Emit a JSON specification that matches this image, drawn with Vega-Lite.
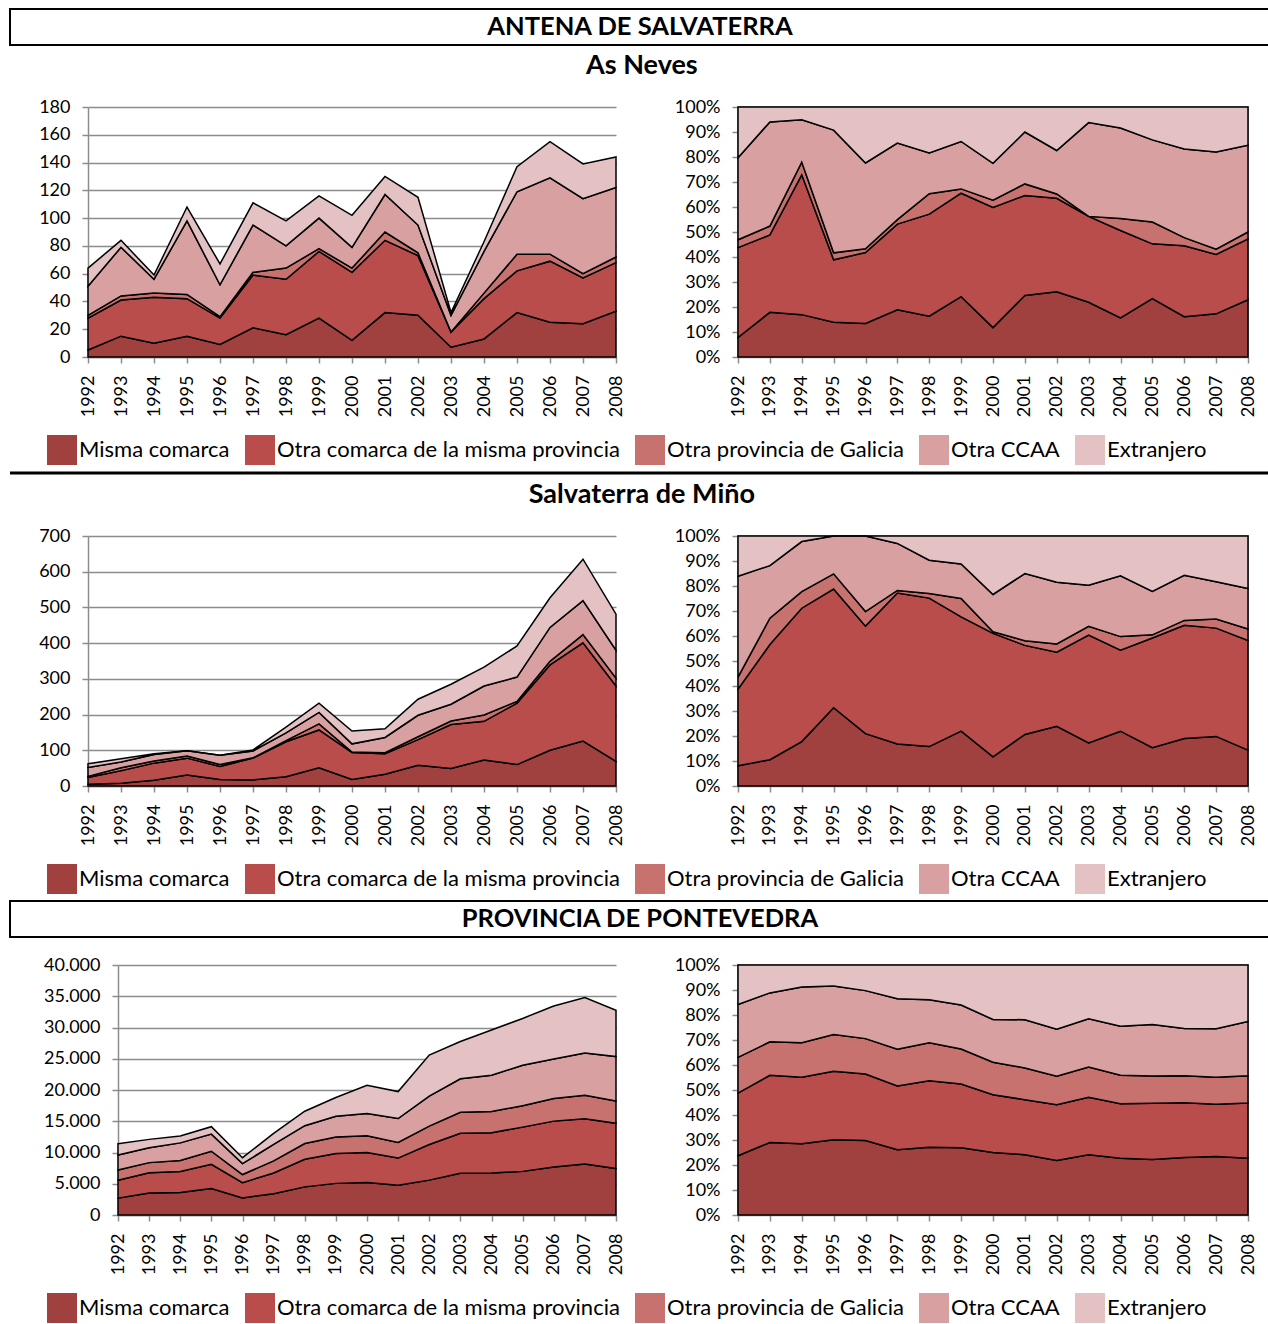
{
  "$schema": "https://vega.github.io/schema/vega-lite/v6.json",
  "padding": {"left": 8, "top": 8, "right": 0, "bottom": 0},
  "background": "white",
  "spacing": 6,
  "config": {
    "font": "Lato",
    "axis": {"labelFont": "Lato", "labelFontSize": 18, "labelColor": "black", "domainColor": "#8c8c8c", "domainWidth": 1.5, "tickColor": "#8c8c8c", "tickWidth": 1.5, "tickSize": 6, "gridColor": "#8c8c8c", "gridWidth": 1.5, "labelPadding": 12},
    "axisX": {"labelAngle": -90, "labelPadding": 12},
    "legend": {"direction": "horizontal", "symbolType": "square", "symbolSize": 900, "symbolStrokeWidth": 0, "symbolOpacity": 1, "labelFont": "Lato", "labelFontSize": 22, "labelColor": "black", "labelLimit": 0, "columnPadding": 15, "labelOffset": 2, "title": null},
    "title": {"font": "Lato", "fontSize": 27, "fontWeight": "bold", "color": "black", "anchor": "middle"}
  },
  "resolve": {"scale": {"color": "independent"}},
  "datasets": {
    "neves": [
      {"year":1992,"cat":"Misma comarca","ord":1,"value":5},{"year":1992,"cat":"Otra comarca de la misma provincia","ord":2,"value":23},{"year":1992,"cat":"Otra provincia de Galicia","ord":3,"value":2},{"year":1992,"cat":"Otra CCAA","ord":4,"value":21},{"year":1992,"cat":"Extranjero","ord":5,"value":13},
      {"year":1993,"cat":"Misma comarca","ord":1,"value":15},{"year":1993,"cat":"Otra comarca de la misma provincia","ord":2,"value":26},{"year":1993,"cat":"Otra provincia de Galicia","ord":3,"value":3},{"year":1993,"cat":"Otra CCAA","ord":4,"value":35},{"year":1993,"cat":"Extranjero","ord":5,"value":5},
      {"year":1994,"cat":"Misma comarca","ord":1,"value":10},{"year":1994,"cat":"Otra comarca de la misma provincia","ord":2,"value":33},{"year":1994,"cat":"Otra provincia de Galicia","ord":3,"value":3},{"year":1994,"cat":"Otra CCAA","ord":4,"value":10},{"year":1994,"cat":"Extranjero","ord":5,"value":3},
      {"year":1995,"cat":"Misma comarca","ord":1,"value":15},{"year":1995,"cat":"Otra comarca de la misma provincia","ord":2,"value":27},{"year":1995,"cat":"Otra provincia de Galicia","ord":3,"value":3},{"year":1995,"cat":"Otra CCAA","ord":4,"value":53},{"year":1995,"cat":"Extranjero","ord":5,"value":10},
      {"year":1996,"cat":"Misma comarca","ord":1,"value":9},{"year":1996,"cat":"Otra comarca de la misma provincia","ord":2,"value":19},{"year":1996,"cat":"Otra provincia de Galicia","ord":3,"value":1},{"year":1996,"cat":"Otra CCAA","ord":4,"value":23},{"year":1996,"cat":"Extranjero","ord":5,"value":15},
      {"year":1997,"cat":"Misma comarca","ord":1,"value":21},{"year":1997,"cat":"Otra comarca de la misma provincia","ord":2,"value":38},{"year":1997,"cat":"Otra provincia de Galicia","ord":3,"value":2},{"year":1997,"cat":"Otra CCAA","ord":4,"value":34},{"year":1997,"cat":"Extranjero","ord":5,"value":16},
      {"year":1998,"cat":"Misma comarca","ord":1,"value":16},{"year":1998,"cat":"Otra comarca de la misma provincia","ord":2,"value":40},{"year":1998,"cat":"Otra provincia de Galicia","ord":3,"value":8},{"year":1998,"cat":"Otra CCAA","ord":4,"value":16},{"year":1998,"cat":"Extranjero","ord":5,"value":18},
      {"year":1999,"cat":"Misma comarca","ord":1,"value":28},{"year":1999,"cat":"Otra comarca de la misma provincia","ord":2,"value":48},{"year":1999,"cat":"Otra provincia de Galicia","ord":3,"value":2},{"year":1999,"cat":"Otra CCAA","ord":4,"value":22},{"year":1999,"cat":"Extranjero","ord":5,"value":16},
      {"year":2000,"cat":"Misma comarca","ord":1,"value":12},{"year":2000,"cat":"Otra comarca de la misma provincia","ord":2,"value":49},{"year":2000,"cat":"Otra provincia de Galicia","ord":3,"value":3},{"year":2000,"cat":"Otra CCAA","ord":4,"value":15},{"year":2000,"cat":"Extranjero","ord":5,"value":23},
      {"year":2001,"cat":"Misma comarca","ord":1,"value":32},{"year":2001,"cat":"Otra comarca de la misma provincia","ord":2,"value":52},{"year":2001,"cat":"Otra provincia de Galicia","ord":3,"value":6},{"year":2001,"cat":"Otra CCAA","ord":4,"value":27},{"year":2001,"cat":"Extranjero","ord":5,"value":13},
      {"year":2002,"cat":"Misma comarca","ord":1,"value":30},{"year":2002,"cat":"Otra comarca de la misma provincia","ord":2,"value":43},{"year":2002,"cat":"Otra provincia de Galicia","ord":3,"value":2},{"year":2002,"cat":"Otra CCAA","ord":4,"value":20},{"year":2002,"cat":"Extranjero","ord":5,"value":20},
      {"year":2003,"cat":"Misma comarca","ord":1,"value":7},{"year":2003,"cat":"Otra comarca de la misma provincia","ord":2,"value":11},{"year":2003,"cat":"Otra provincia de Galicia","ord":3,"value":0},{"year":2003,"cat":"Otra CCAA","ord":4,"value":12},{"year":2003,"cat":"Extranjero","ord":5,"value":2},
      {"year":2004,"cat":"Misma comarca","ord":1,"value":13},{"year":2004,"cat":"Otra comarca de la misma provincia","ord":2,"value":29},{"year":2004,"cat":"Otra provincia de Galicia","ord":3,"value":4},{"year":2004,"cat":"Otra CCAA","ord":4,"value":30},{"year":2004,"cat":"Extranjero","ord":5,"value":7},
      {"year":2005,"cat":"Misma comarca","ord":1,"value":32},{"year":2005,"cat":"Otra comarca de la misma provincia","ord":2,"value":30},{"year":2005,"cat":"Otra provincia de Galicia","ord":3,"value":12},{"year":2005,"cat":"Otra CCAA","ord":4,"value":45},{"year":2005,"cat":"Extranjero","ord":5,"value":18},
      {"year":2006,"cat":"Misma comarca","ord":1,"value":25},{"year":2006,"cat":"Otra comarca de la misma provincia","ord":2,"value":44},{"year":2006,"cat":"Otra provincia de Galicia","ord":3,"value":5},{"year":2006,"cat":"Otra CCAA","ord":4,"value":55},{"year":2006,"cat":"Extranjero","ord":5,"value":26},
      {"year":2007,"cat":"Misma comarca","ord":1,"value":24},{"year":2007,"cat":"Otra comarca de la misma provincia","ord":2,"value":33},{"year":2007,"cat":"Otra provincia de Galicia","ord":3,"value":3},{"year":2007,"cat":"Otra CCAA","ord":4,"value":54},{"year":2007,"cat":"Extranjero","ord":5,"value":25},
      {"year":2008,"cat":"Misma comarca","ord":1,"value":33},{"year":2008,"cat":"Otra comarca de la misma provincia","ord":2,"value":35},{"year":2008,"cat":"Otra provincia de Galicia","ord":3,"value":4},{"year":2008,"cat":"Otra CCAA","ord":4,"value":50},{"year":2008,"cat":"Extranjero","ord":5,"value":22}
    ],
    "salva": [
      {"year":1992,"cat":"Misma comarca","ord":1,"value":5},{"year":1992,"cat":"Otra comarca de la misma provincia","ord":2,"value":19},{"year":1992,"cat":"Otra provincia de Galicia","ord":3,"value":3},{"year":1992,"cat":"Otra CCAA","ord":4,"value":25},{"year":1992,"cat":"Extranjero","ord":5,"value":10},
      {"year":1993,"cat":"Misma comarca","ord":1,"value":8},{"year":1993,"cat":"Otra comarca de la misma provincia","ord":2,"value":35},{"year":1993,"cat":"Otra provincia de Galicia","ord":3,"value":8},{"year":1993,"cat":"Otra CCAA","ord":4,"value":16},{"year":1993,"cat":"Extranjero","ord":5,"value":9},
      {"year":1994,"cat":"Misma comarca","ord":1,"value":16},{"year":1994,"cat":"Otra comarca de la misma provincia","ord":2,"value":48},{"year":1994,"cat":"Otra provincia de Galicia","ord":3,"value":6},{"year":1994,"cat":"Otra CCAA","ord":4,"value":18},{"year":1994,"cat":"Extranjero","ord":5,"value":2},
      {"year":1995,"cat":"Misma comarca","ord":1,"value":31},{"year":1995,"cat":"Otra comarca de la misma provincia","ord":2,"value":47},{"year":1995,"cat":"Otra provincia de Galicia","ord":3,"value":6},{"year":1995,"cat":"Otra CCAA","ord":4,"value":15},{"year":1995,"cat":"Extranjero","ord":5,"value":0},
      {"year":1996,"cat":"Misma comarca","ord":1,"value":18},{"year":1996,"cat":"Otra comarca de la misma provincia","ord":2,"value":37},{"year":1996,"cat":"Otra provincia de Galicia","ord":3,"value":5},{"year":1996,"cat":"Otra CCAA","ord":4,"value":26},{"year":1996,"cat":"Extranjero","ord":5,"value":0},
      {"year":1997,"cat":"Misma comarca","ord":1,"value":17},{"year":1997,"cat":"Otra comarca de la misma provincia","ord":2,"value":61},{"year":1997,"cat":"Otra provincia de Galicia","ord":3,"value":1},{"year":1997,"cat":"Otra CCAA","ord":4,"value":19},{"year":1997,"cat":"Extranjero","ord":5,"value":3},
      {"year":1998,"cat":"Misma comarca","ord":1,"value":26},{"year":1998,"cat":"Otra comarca de la misma provincia","ord":2,"value":98},{"year":1998,"cat":"Otra provincia de Galicia","ord":3,"value":3},{"year":1998,"cat":"Otra CCAA","ord":4,"value":22},{"year":1998,"cat":"Extranjero","ord":5,"value":16},
      {"year":1999,"cat":"Misma comarca","ord":1,"value":51},{"year":1999,"cat":"Otra comarca de la misma provincia","ord":2,"value":106},{"year":1999,"cat":"Otra provincia de Galicia","ord":3,"value":17},{"year":1999,"cat":"Otra CCAA","ord":4,"value":32},{"year":1999,"cat":"Extranjero","ord":5,"value":26},
      {"year":2000,"cat":"Misma comarca","ord":1,"value":18},{"year":2000,"cat":"Otra comarca de la misma provincia","ord":2,"value":76},{"year":2000,"cat":"Otra provincia de Galicia","ord":3,"value":1},{"year":2000,"cat":"Otra CCAA","ord":4,"value":23},{"year":2000,"cat":"Extranjero","ord":5,"value":36},
      {"year":2001,"cat":"Misma comarca","ord":1,"value":33},{"year":2001,"cat":"Otra comarca de la misma provincia","ord":2,"value":57},{"year":2001,"cat":"Otra provincia de Galicia","ord":3,"value":3},{"year":2001,"cat":"Otra CCAA","ord":4,"value":43},{"year":2001,"cat":"Extranjero","ord":5,"value":24},
      {"year":2002,"cat":"Misma comarca","ord":1,"value":58},{"year":2002,"cat":"Otra comarca de la misma provincia","ord":2,"value":72},{"year":2002,"cat":"Otra provincia de Galicia","ord":3,"value":8},{"year":2002,"cat":"Otra CCAA","ord":4,"value":60},{"year":2002,"cat":"Extranjero","ord":5,"value":45},
      {"year":2003,"cat":"Misma comarca","ord":1,"value":49},{"year":2003,"cat":"Otra comarca de la misma provincia","ord":2,"value":123},{"year":2003,"cat":"Otra provincia de Galicia","ord":3,"value":10},{"year":2003,"cat":"Otra CCAA","ord":4,"value":47},{"year":2003,"cat":"Extranjero","ord":5,"value":56},
      {"year":2004,"cat":"Misma comarca","ord":1,"value":73},{"year":2004,"cat":"Otra comarca de la misma provincia","ord":2,"value":108},{"year":2004,"cat":"Otra provincia de Galicia","ord":3,"value":18},{"year":2004,"cat":"Otra CCAA","ord":4,"value":81},{"year":2004,"cat":"Extranjero","ord":5,"value":53},
      {"year":2005,"cat":"Misma comarca","ord":1,"value":60},{"year":2005,"cat":"Otra comarca de la misma provincia","ord":2,"value":172},{"year":2005,"cat":"Otra provincia de Galicia","ord":3,"value":5},{"year":2005,"cat":"Otra CCAA","ord":4,"value":68},{"year":2005,"cat":"Extranjero","ord":5,"value":87},
      {"year":2006,"cat":"Misma comarca","ord":1,"value":100},{"year":2006,"cat":"Otra comarca de la misma provincia","ord":2,"value":239},{"year":2006,"cat":"Otra provincia de Galicia","ord":3,"value":10},{"year":2006,"cat":"Otra CCAA","ord":4,"value":95},{"year":2006,"cat":"Extranjero","ord":5,"value":83},
      {"year":2007,"cat":"Misma comarca","ord":1,"value":126},{"year":2007,"cat":"Otra comarca de la misma provincia","ord":2,"value":275},{"year":2007,"cat":"Otra provincia de Galicia","ord":3,"value":23},{"year":2007,"cat":"Otra CCAA","ord":4,"value":95},{"year":2007,"cat":"Extranjero","ord":5,"value":116},
      {"year":2008,"cat":"Misma comarca","ord":1,"value":69},{"year":2008,"cat":"Otra comarca de la misma provincia","ord":2,"value":211},{"year":2008,"cat":"Otra provincia de Galicia","ord":3,"value":22},{"year":2008,"cat":"Otra CCAA","ord":4,"value":78},{"year":2008,"cat":"Extranjero","ord":5,"value":101}
    ],
    "ponte": [
      {"year":1992,"cat":"Misma comarca","ord":1,"value":2700},{"year":1992,"cat":"Otra comarca de la misma provincia","ord":2,"value":2860},{"year":1992,"cat":"Otra provincia de Galicia","ord":3,"value":1630},{"year":1992,"cat":"Otra CCAA","ord":4,"value":2410},{"year":1992,"cat":"Extranjero","ord":5,"value":1800},
      {"year":1993,"cat":"Misma comarca","ord":1,"value":3510},{"year":1993,"cat":"Otra comarca de la misma provincia","ord":2,"value":3250},{"year":1993,"cat":"Otra provincia de Galicia","ord":3,"value":1620},{"year":1993,"cat":"Otra CCAA","ord":4,"value":2370},{"year":1993,"cat":"Extranjero","ord":5,"value":1350},
      {"year":1994,"cat":"Misma comarca","ord":1,"value":3600},{"year":1994,"cat":"Otra comarca de la misma provincia","ord":2,"value":3370},{"year":1994,"cat":"Otra provincia de Galicia","ord":3,"value":1750},{"year":1994,"cat":"Otra CCAA","ord":4,"value":2820},{"year":1994,"cat":"Extranjero","ord":5,"value":1110},
      {"year":1995,"cat":"Misma comarca","ord":1,"value":4250},{"year":1995,"cat":"Otra comarca de la misma provincia","ord":2,"value":3870},{"year":1995,"cat":"Otra provincia de Galicia","ord":3,"value":2080},{"year":1995,"cat":"Otra CCAA","ord":4,"value":2740},{"year":1995,"cat":"Extranjero","ord":5,"value":1190},
      {"year":1996,"cat":"Misma comarca","ord":1,"value":2730},{"year":1996,"cat":"Otra comarca de la misma provincia","ord":2,"value":2440},{"year":1996,"cat":"Otra provincia de Galicia","ord":3,"value":1300},{"year":1996,"cat":"Otra CCAA","ord":4,"value":1760},{"year":1996,"cat":"Extranjero","ord":5,"value":940},
      {"year":1997,"cat":"Misma comarca","ord":1,"value":3410},{"year":1997,"cat":"Otra comarca de la misma provincia","ord":2,"value":3320},{"year":1997,"cat":"Otra provincia de Galicia","ord":3,"value":1920},{"year":1997,"cat":"Otra CCAA","ord":4,"value":2640},{"year":1997,"cat":"Extranjero","ord":5,"value":1760},
      {"year":1998,"cat":"Misma comarca","ord":1,"value":4500},{"year":1998,"cat":"Otra comarca de la misma provincia","ord":2,"value":4410},{"year":1998,"cat":"Otra provincia de Galicia","ord":3,"value":2520},{"year":1998,"cat":"Otra CCAA","ord":4,"value":2860},{"year":1998,"cat":"Extranjero","ord":5,"value":2310},
      {"year":1999,"cat":"Misma comarca","ord":1,"value":5060},{"year":1999,"cat":"Otra comarca de la misma provincia","ord":2,"value":4790},{"year":1999,"cat":"Otra provincia de Galicia","ord":3,"value":2630},{"year":1999,"cat":"Otra CCAA","ord":4,"value":3310},{"year":1999,"cat":"Extranjero","ord":5,"value":3010},
      {"year":2000,"cat":"Misma comarca","ord":1,"value":5190},{"year":2000,"cat":"Otra comarca de la misma provincia","ord":2,"value":4790},{"year":2000,"cat":"Otra provincia de Galicia","ord":3,"value":2700},{"year":2000,"cat":"Otra CCAA","ord":4,"value":3550},{"year":2000,"cat":"Extranjero","ord":5,"value":4520},
      {"year":2001,"cat":"Misma comarca","ord":1,"value":4760},{"year":2001,"cat":"Otra comarca de la misma provincia","ord":2,"value":4350},{"year":2001,"cat":"Otra provincia de Galicia","ord":3,"value":2510},{"year":2001,"cat":"Otra CCAA","ord":4,"value":3810},{"year":2001,"cat":"Extranjero","ord":5,"value":4320},
      {"year":2002,"cat":"Misma comarca","ord":1,"value":5580},{"year":2002,"cat":"Otra comarca de la misma provincia","ord":2,"value":5710},{"year":2002,"cat":"Otra provincia de Galicia","ord":3,"value":2920},{"year":2002,"cat":"Otra CCAA","ord":4,"value":4810},{"year":2002,"cat":"Extranjero","ord":5,"value":6580},
      {"year":2003,"cat":"Misma comarca","ord":1,"value":6690},{"year":2003,"cat":"Otra comarca de la misma provincia","ord":2,"value":6380},{"year":2003,"cat":"Otra provincia de Galicia","ord":3,"value":3360},{"year":2003,"cat":"Otra CCAA","ord":4,"value":5360},{"year":2003,"cat":"Extranjero","ord":5,"value":5960},
      {"year":2004,"cat":"Misma comarca","ord":1,"value":6720},{"year":2004,"cat":"Otra comarca de la misma provincia","ord":2,"value":6450},{"year":2004,"cat":"Otra provincia de Galicia","ord":3,"value":3380},{"year":2004,"cat":"Otra CCAA","ord":4,"value":5800},{"year":2004,"cat":"Extranjero","ord":5,"value":7250},
      {"year":2005,"cat":"Misma comarca","ord":1,"value":6980},{"year":2005,"cat":"Otra comarca de la misma provincia","ord":2,"value":7080},{"year":2005,"cat":"Otra provincia de Galicia","ord":3,"value":3430},{"year":2005,"cat":"Otra CCAA","ord":4,"value":6480},{"year":2005,"cat":"Extranjero","ord":5,"value":7480},
      {"year":2006,"cat":"Misma comarca","ord":1,"value":7690},{"year":2006,"cat":"Otra comarca de la misma provincia","ord":2,"value":7330},{"year":2006,"cat":"Otra provincia de Galicia","ord":3,"value":3610},{"year":2006,"cat":"Otra CCAA","ord":4,"value":6320},{"year":2006,"cat":"Extranjero","ord":5,"value":8500},
      {"year":2007,"cat":"Misma comarca","ord":1,"value":8140},{"year":2007,"cat":"Otra comarca de la misma provincia","ord":2,"value":7270},{"year":2007,"cat":"Otra provincia de Galicia","ord":3,"value":3760},{"year":2007,"cat":"Otra CCAA","ord":4,"value":6750},{"year":2007,"cat":"Extranjero","ord":5,"value":8880},
      {"year":2008,"cat":"Misma comarca","ord":1,"value":7430},{"year":2008,"cat":"Otra comarca de la misma provincia","ord":2,"value":7240},{"year":2008,"cat":"Otra provincia de Galicia","ord":3,"value":3570},{"year":2008,"cat":"Otra CCAA","ord":4,"value":7110},{"year":2008,"cat":"Extranjero","ord":5,"value":7400}
    ]
  },
  "vconcat": [
    {
      "width": 1260, "height": 36,
      "data": {"values": [{"t": "ANTENA DE SALVATERRA"}]},
      "view": {"stroke": "black", "strokeWidth": 2},
      "mark": {"type": "text", "fontSize": 25.5, "fontWeight": "bold", "font": "Lato", "color": "black"},
      "encoding": {"text": {"field": "t"}}
    },
    {
      "title": {"text": "As Neves", "offset": 17, "dx": 8},
      "spacing": 0,
      "hconcat": [
        {"width": 1, "height": 1, "data": {"values": []}, "view": {"stroke": null}, "mark": "point"},
        {
          "width": 528, "height": 250,
          "data": {"name": "neves"},
          "view": {"stroke": null},
          "mark": {"type": "area", "stroke": "black", "strokeWidth": 1.5},
          "encoding": {
            "x": {"field": "year", "type": "ordinal", "title": null, "scale": {"type": "point", "padding": 0}},
            "y": {"field": "value", "type": "quantitative", "stack": "zero", "title": null, "scale": {"domain": [0, 180], "nice": false}, "axis": {"values": [0,20,40,60,80,100,120,140,160,180], "grid": true, "minExtent": 77}},
            "color": {"field": "cat", "type": "nominal", "scale": {"domain": ["Misma comarca","Otra comarca de la misma provincia","Otra provincia de Galicia","Otra CCAA","Extranjero"], "range": ["#A0413F","#B84D4B","#C8726F","#D8A0A0","#E4C2C4"]}, "legend": {"orient": "none", "legendX": 37, "legendY": 328}},
            "order": {"field": "ord"}
          }
        },
        {
          "width": 510, "height": 250,
          "data": {"name": "neves"},
          "view": {"stroke": "#808080", "strokeWidth": 1.5},
          "mark": {"type": "area", "stroke": "black", "strokeWidth": 1.5},
          "encoding": {
            "x": {"field": "year", "type": "ordinal", "title": null, "scale": {"type": "point", "padding": 0}},
            "y": {"field": "value", "type": "quantitative", "stack": "normalize", "title": null, "scale": {"domain": [0, 1], "nice": false}, "axis": {"values": [0,0.1,0.2,0.3,0.4,0.5,0.6,0.7,0.8,0.9,1], "format": ".0%", "grid": false, "minExtent": 112}},
            "color": {"field": "cat", "type": "nominal", "scale": {"domain": ["Misma comarca","Otra comarca de la misma provincia","Otra provincia de Galicia","Otra CCAA","Extranjero"], "range": ["#A0413F","#B84D4B","#C8726F","#D8A0A0","#E4C2C4"]}, "legend": {"orient": "none", "legendX": 37, "legendY": 328}},
            "order": {"field": "ord"}
          }
        }
      ]
    },
    {
      "width": 1260, "height": 1,
      "data": {"values": [{}]},
      "view": {"stroke": null},
      "mark": {"type": "rule", "strokeWidth": 3, "color": "black"},
      "encoding": {"y": {"datum": 1, "type": "quantitative", "scale": {"domain": [0, 1]}, "axis": null}}
    },
    {
      "title": {"text": "Salvaterra de Miño", "offset": 17, "dx": 8},
      "spacing": 0,
      "hconcat": [
        {"width": 1, "height": 1, "data": {"values": []}, "view": {"stroke": null}, "mark": "point"},
        {
          "width": 528, "height": 250,
          "data": {"name": "salva"},
          "view": {"stroke": null},
          "mark": {"type": "area", "stroke": "black", "strokeWidth": 1.5},
          "encoding": {
            "x": {"field": "year", "type": "ordinal", "title": null, "scale": {"type": "point", "padding": 0}},
            "y": {"field": "value", "type": "quantitative", "stack": "zero", "title": null, "scale": {"domain": [0, 700], "nice": false}, "axis": {"values": [0,100,200,300,400,500,600,700], "grid": true, "minExtent": 77}},
            "color": {"field": "cat", "type": "nominal", "scale": {"domain": ["Misma comarca","Otra comarca de la misma provincia","Otra provincia de Galicia","Otra CCAA","Extranjero"], "range": ["#A0413F","#B84D4B","#C8726F","#D8A0A0","#E4C2C4"]}, "legend": {"orient": "none", "legendX": 37, "legendY": 328}},
            "order": {"field": "ord"}
          }
        },
        {
          "width": 510, "height": 250,
          "data": {"name": "salva"},
          "view": {"stroke": "#808080", "strokeWidth": 1.5},
          "mark": {"type": "area", "stroke": "black", "strokeWidth": 1.5},
          "encoding": {
            "x": {"field": "year", "type": "ordinal", "title": null, "scale": {"type": "point", "padding": 0}},
            "y": {"field": "value", "type": "quantitative", "stack": "normalize", "title": null, "scale": {"domain": [0, 1], "nice": false}, "axis": {"values": [0,0.1,0.2,0.3,0.4,0.5,0.6,0.7,0.8,0.9,1], "format": ".0%", "grid": false, "minExtent": 112}},
            "color": {"field": "cat", "type": "nominal", "scale": {"domain": ["Misma comarca","Otra comarca de la misma provincia","Otra provincia de Galicia","Otra CCAA","Extranjero"], "range": ["#A0413F","#B84D4B","#C8726F","#D8A0A0","#E4C2C4"]}, "legend": {"orient": "none", "legendX": 37, "legendY": 328}},
            "order": {"field": "ord"}
          }
        }
      ]
    },
    {
      "width": 1260, "height": 36,
      "data": {"values": [{"t": "PROVINCIA DE PONTEVEDRA"}]},
      "view": {"stroke": "black", "strokeWidth": 2},
      "mark": {"type": "text", "fontSize": 25.5, "fontWeight": "bold", "font": "Lato", "color": "black"},
      "encoding": {"text": {"field": "t"}}
    },
    {
      "title": {"text": " ", "fontSize": 4, "offset": 7},
      "spacing": 0,
      "hconcat": [
        {"width": 1, "height": 1, "data": {"values": []}, "view": {"stroke": null}, "mark": "point"},
        {
          "width": 498, "height": 250,
          "data": {"name": "ponte"},
          "view": {"stroke": null},
          "mark": {"type": "area", "stroke": "black", "strokeWidth": 1.5},
          "encoding": {
            "x": {"field": "year", "type": "ordinal", "title": null, "scale": {"type": "point", "padding": 0}},
            "y": {"field": "value", "type": "quantitative", "stack": "zero", "title": null, "scale": {"domain": [0, 40000], "nice": false}, "axis": {"values": [0,5000,10000,15000,20000,25000,30000,35000,40000], "labelExpr": "replace(format(datum.value, ','), ',', '.')", "grid": true, "minExtent": 107}},
            "color": {"field": "cat", "type": "nominal", "scale": {"domain": ["Misma comarca","Otra comarca de la misma provincia","Otra provincia de Galicia","Otra CCAA","Extranjero"], "range": ["#A0413F","#B84D4B","#C8726F","#D8A0A0","#E4C2C4"]}, "legend": {"orient": "none", "legendX": 37, "legendY": 328}},
            "order": {"field": "ord"}
          }
        },
        {
          "width": 510, "height": 250,
          "data": {"name": "ponte"},
          "view": {"stroke": "#808080", "strokeWidth": 1.5},
          "mark": {"type": "area", "stroke": "black", "strokeWidth": 1.5},
          "encoding": {
            "x": {"field": "year", "type": "ordinal", "title": null, "scale": {"type": "point", "padding": 0}},
            "y": {"field": "value", "type": "quantitative", "stack": "normalize", "title": null, "scale": {"domain": [0, 1], "nice": false}, "axis": {"values": [0,0.1,0.2,0.3,0.4,0.5,0.6,0.7,0.8,0.9,1], "format": ".0%", "grid": false, "minExtent": 112}},
            "color": {"field": "cat", "type": "nominal", "scale": {"domain": ["Misma comarca","Otra comarca de la misma provincia","Otra provincia de Galicia","Otra CCAA","Extranjero"], "range": ["#A0413F","#B84D4B","#C8726F","#D8A0A0","#E4C2C4"]}, "legend": {"orient": "none", "legendX": 37, "legendY": 328}},
            "order": {"field": "ord"}
          }
        }
      ]
    }
  ]
}
